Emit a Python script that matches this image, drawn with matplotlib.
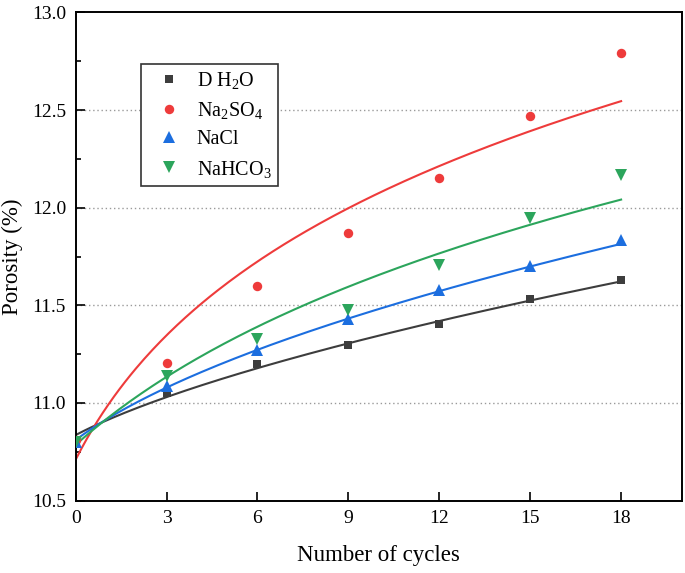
import numpy as np
import matplotlib
matplotlib.use("Agg")
import matplotlib.pyplot as plt
from matplotlib.ticker import MultipleLocator

plt.rcParams['font.family'] = ['Liberation Serif', 'DejaVu Serif']
plt.rcParams['mathtext.default'] = 'regular'

# ---- data ----
cycles = [0, 3, 6, 9, 12, 15, 18]
labels = ['D H$_2$O', 'Na$_2$SO$_4$', 'NaCl', 'NaHCO$_3$']

dh2o = [10.81, 11.05, 11.20, 11.296, 11.404, 11.532, 11.63]
na2so4 = [10.81, 11.203, 11.60, 11.87, 12.15, 12.47, 12.79]
nacl = [10.80, 11.087, 11.27, 11.43, 11.578, 11.70, 11.834]
nahco3 = [10.80, 11.138, 11.326, 11.476, 11.706, 11.947, 12.167]

# fitted-curve values at the same cycles
fit_dh2o = [10.836, 11.032, 11.172, 11.309, 11.416, 11.53, 11.62]
fit_na2so4 = [10.708, 11.345, 11.732, 11.996, 12.21, 12.397, 12.542]
fit_nacl = [10.81, 11.08, 11.27, 11.43, 11.578, 11.697, 11.814]
fit_nahco3 = [10.785, 11.134, 11.39, 11.595, 11.766, 11.916, 12.039]

colors = ['#3d3d3d', '#ee3b3b', '#1c6edf', '#2ca55c']
markers = ['s', 'o', '^', 'v']
msizes = [6.2, 6.8, 8.2, 8.2]


def fit_model(x, y):
    """Fit y = a + b*(x+d)**c to the read curve values (grid over c,d)."""
    x = np.asarray(x, float)
    y = np.asarray(y, float)
    best = None
    for c in np.linspace(0.05, 1.5, 59):
        for d in np.linspace(0.0, 8.0, 41):
            t = (x + d) ** c
            A = np.column_stack([np.ones_like(t), t])
            coef, *_ = np.linalg.lstsq(A, y, rcond=None)
            r = np.sum((A @ coef - y) ** 2)
            if best is None or r < best[0]:
                best = (r, coef[0], coef[1], c, d)
    _, a, b, c, d = best
    return lambda xx: a + b * (np.asarray(xx) + d) ** c


fig = plt.figure(figsize=(6.85, 5.73), dpi=100)
ax = fig.add_axes([0.1105, 0.1265, 0.8847, 0.8517])

series = [dh2o, na2so4, nacl, nahco3]
fits = [fit_dh2o, fit_na2so4, fit_nacl, fit_nahco3]
xs = np.linspace(min(cycles), max(cycles), 200)

for fv, col in zip(fits, colors):
    f = fit_model(cycles, fv)
    ax.plot(xs, f(xs), color=col, lw=1.5, zorder=2)

for vals, lab, col, mk, ms in zip(series, labels, colors, markers, msizes):
    ax.plot(cycles, vals, linestyle='none', marker=mk, ms=ms, color=col,
            markeredgewidth=0, label=lab, zorder=3)

ax.set_xlim(0, 20)
ax.set_ylim(10.5, 13.0)
ax.set_xticks(cycles)
ax.yaxis.set_major_locator(MultipleLocator(0.5))
ax.yaxis.set_minor_locator(MultipleLocator(0.25))
ax.yaxis.set_major_formatter(matplotlib.ticker.FormatStrFormatter('%.1f'))

for yv in [11.0, 11.5, 12.0, 12.5]:
    ax.axhline(yv, color='#9a9a9a', lw=1.0, ls=(0, (1, 2)), zorder=1)

ax.tick_params(axis='both', which='major', direction='in', length=6.5,
               width=1.2, labelsize=14)
ax.tick_params(axis='x', pad=7)
ax.tick_params(axis='y', pad=7)
ax.tick_params(axis='y', which='minor', direction='in', length=3.5, width=1.2)
ax.tick_params(top=False, right=False)
for s in ax.spines.values():
    s.set_linewidth(1.4)

ax.set_xlabel('Number of cycles', fontsize=16.5, labelpad=13)
ax.set_ylabel('Porosity (%)', fontsize=16.5, labelpad=6)

leg = ax.legend(loc='upper left', bbox_to_anchor=(0.107, 0.894),
                borderaxespad=0, fontsize=14.5, frameon=True, fancybox=False,
                edgecolor='#333333', framealpha=1, borderpad=0.3,
                handlelength=2.2, handletextpad=0.3, labelspacing=0.45)
leg.get_frame().set_linewidth(1.2)

fig.savefig('out.png', dpi=100)
